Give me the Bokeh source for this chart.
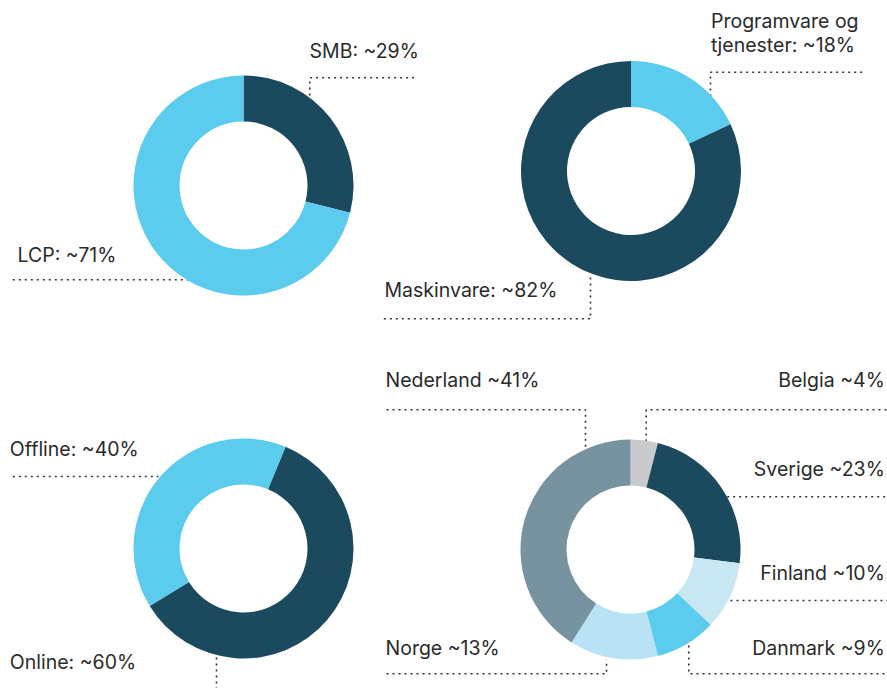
import math
from bokeh.plotting import figure
from bokeh.models import Range1d, ColumnDataSource
from bokeh.core.properties import value
from bokeh.embed import file_html
from bokeh.resources import INLINE

# ---------------- data ----------------
seg_labels = ["SMB", "LCP"]
seg_values = [29, 71]

prod_labels = ["Programvare og\ntjenester", "Maskinvare"]
prod_values = [18, 82]

chan_labels = ["Online", "Offline"]
chan_values = [60, 40]

country_labels = ["Belgia", "Sverige", "Finland", "Danmark", "Norge", "Nederland"]
country_values = [4, 23, 10, 9, 13, 41]

# ---------------- styles ----------------
NAVY = "#1B4A5F"
CYAN = "#5BCBEE"
seg_colors = [NAVY, CYAN]
prod_colors = [CYAN, NAVY]
chan_colors = [NAVY, CYAN]
country_colors = ["#C8CACB", NAVY, "#C7E8F2", CYAN, "#B9E3F5", "#7793A0"]

TEXT_COLOR = "#2A2A2A"
LINE_COLOR = "#333333"
FONT = "Inter"
FONT_SIZE = "19.5px"
LINE_STEP = 23.4
BASE_SHIFT = -7.5   # renderer baseline correction (screen px)

W, H = 887, 688


def Y(sy):
    return H - sy


p = figure(width=W, height=H, output_backend="svg", toolbar_location=None,
           x_range=Range1d(0, W), y_range=Range1d(0, H), min_border=0)
p.axis.visible = False
p.grid.visible = False
p.outline_line_color = None
p.background_fill_color = "white"

R_OUT, R_IN = 110, 64

# donut layout: (center sx, center sy, start angle deg, labels, values, colors, separator)
donuts = [
    (243, 185, 90, seg_labels, seg_values, seg_colors, ": ~"),
    (630.5, 170.5, 90, prod_labels, prod_values, prod_colors, ": ~"),
    (243, 548, 67.5, chan_labels, chan_values, chan_colors, ": ~"),
    (630, 549, 90, country_labels, country_values, country_colors, " ~"),
]

# label placement per donut (screen coords): (x, baseline y of first line, align)
label_pos = [
    [(309, 58.3, "left"), (17, 262.3, "left")],
    [(710.5, 28.3, "left"), (384, 296.7, "left")],
    [(9.3, 669.3, "left"), (9.3, 456, "left")],
    [(884.3, 387.3, "right"), (884.3, 475.7, "right"), (884.3, 580, "right"),
     (884.3, 655, "right"), (385, 655, "left"), (385, 387.3, "left")],
]

# leader lines per donut (screen coords)
leaders = [
    [[(309.3, 95), (309.3, 77.3), (416, 77.3)],
     [(12.3, 279.3), (188, 279.3)]],
    [[(710, 96), (710, 71.7), (865, 71.7)],
     [(383.3, 318.3), (590, 318.3), (590, 274)]],
    [[(216, 657), (216, 690)],
     [(12.3, 476), (158, 476)]],
    [[(645.7, 441), (645.7, 409.3), (887, 409.3)],
     [(726.7, 496.3), (887, 496.3)],
     [(730, 600), (887, 600)],
     [(688.3, 645), (688.3, 673.3), (887, 673.3)],
     [(386, 673.3), (606, 673.3), (606, 659)],
     [(386, 409.3), (585, 409.3), (585, 449)]],
]

# leaders first
lx, ly = [], []
for group in leaders:
    for pts in group:
        lx.append([q[0] for q in pts])
        ly.append([Y(q[1]) for q in pts])
p.multi_line(xs=lx, ys=ly, line_color=LINE_COLOR, line_width=1.6, line_dash="2 4")

for (cx, cy, start, labels, values, colors, sep), lpos in zip(donuts, label_pos):
    total = float(sum(values))
    starts, ends = [], []
    cum = 0.0
    for v in values:
        a0 = math.radians(start - cum / total * 360.0)
        cum += v
        a1 = math.radians(start - cum / total * 360.0)
        starts.append(a0)
        ends.append(a1)
    src = ColumnDataSource(dict(x=[cx] * len(values), y=[Y(cy)] * len(values),
                                start=starts, end=ends, color=colors))
    p.annular_wedge(x="x", y="y", inner_radius=R_IN, outer_radius=R_OUT,
                    start_angle="start", end_angle="end", direction="clock",
                    fill_color="color", line_color=None, source=src)

    texts = [f"{lab}{sep}{v}%" for lab, v in zip(labels, values)]
    for t, (tx, ty, al) in zip(texts, lpos):
        for i, line in enumerate(t.split("\n")):
            p.text(x=[tx], y=[Y(ty + i * LINE_STEP + BASE_SHIFT)], text=[line],
                   text_align=al, text_baseline="alphabetic", text_font=value(FONT),
                   text_font_size=FONT_SIZE, text_color=TEXT_COLOR)

open("out.html", "w").write(file_html(p, INLINE))
